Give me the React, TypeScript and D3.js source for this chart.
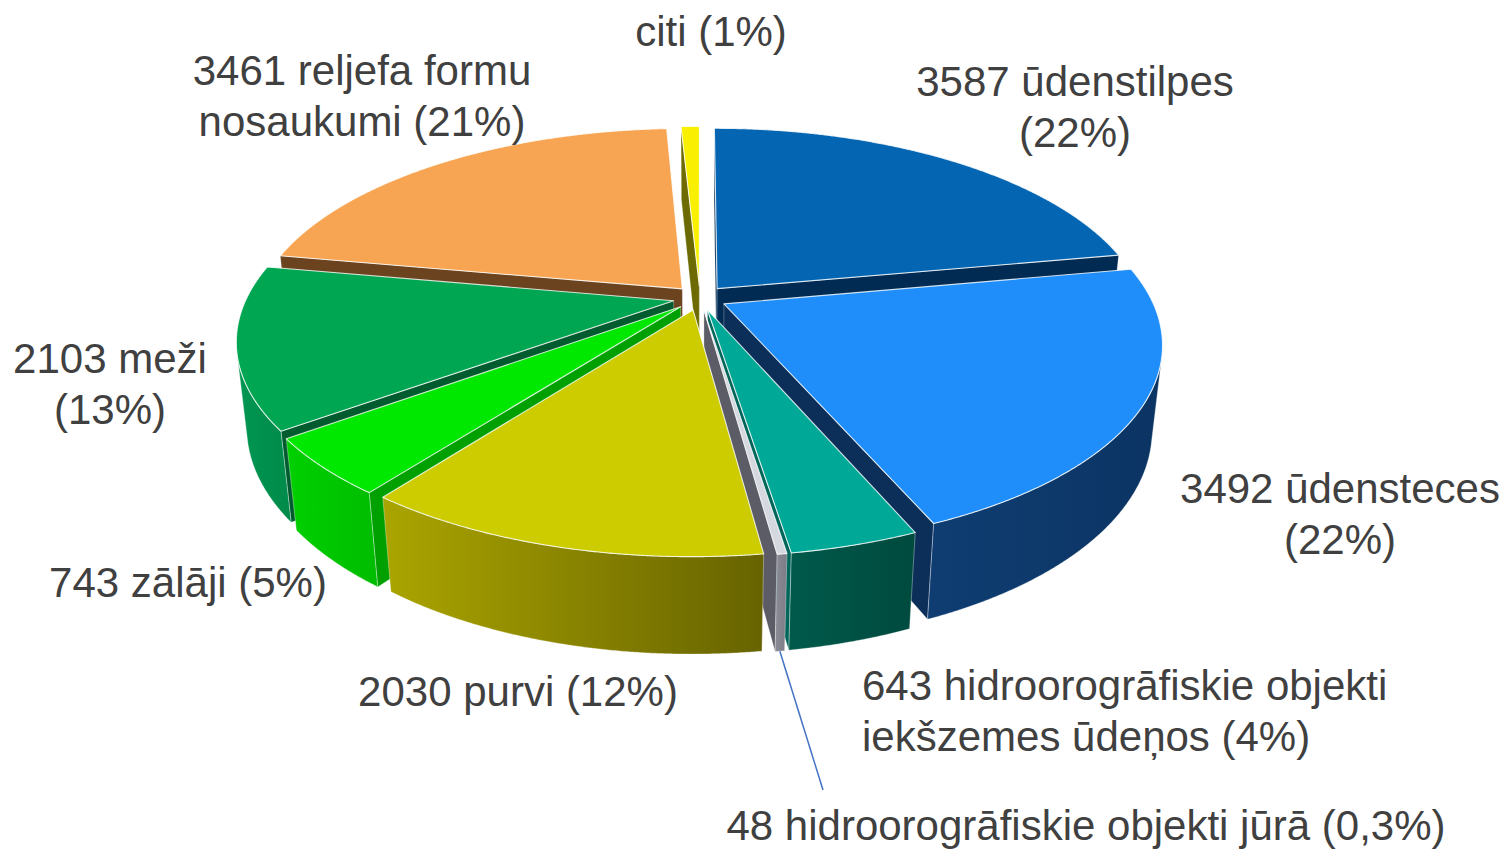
import React from 'react';
import * as d3 from 'd3';

// ---- data ----
const categories = [
  'ūdenstilpes',
  'ūdensteces',
  'hidroorogrāfiskie objekti iekšzemes ūdeņos',
  'hidroorogrāfiskie objekti jūrā',
  'purvi',
  'zālāji',
  'meži',
  'reljefa formu nosaukumi',
  'citi',
];
const values = [3587, 3492, 643, 48, 2030, 743, 2103, 3461, 134];
const percentTexts = ['22%', '22%', '4%', '0,3%', '12%', '5%', '13%', '21%', '1%'];
const labelTexts = [
  ['3587 ūdenstilpes', '(22%)'],
  ['3492 ūdensteces', '(22%)'],
  ['643 hidroorogrāfiskie objekti', 'iekšzemes ūdeņos (4%)'],
  ['48 hidroorogrāfiskie objekti jūrā (0,3%)'],
  ['2030 purvi (12%)'],
  ['743 zālāji (5%)'],
  ['2103 meži', '(13%)'],
  ['3461 reljefa formu', 'nosaukumi (21%)'],
  ['citi (1%)'],
];

// ---- styles ----
const topColors = ['#0466B3', '#1F8EFB', '#00A997', '#D5D8DF', '#CCCC00', '#00E800', '#00A651', '#F7A552', '#F8F000'];
const sideLight = ['#0B3D72', '#0F3D72', '#005A4B', '#8C8C96', '#ABA500', '#00D000', '#009652', '#C27A3A', '#9A9600'];
const sideDark = ['#08325F', '#0B3463', '#004A3E', '#7C7C86', '#676300', '#00BC00', '#008A4A', '#A86830', '#8A8600'];
const cutColors = ['#012B52', '#0C2F5A', '#00665A', '#5C5C66', '#8F8A00', '#00A000', '#005C2E', '#6B431E', '#6C6A00'];

// label layout: x, first baseline, anchor
const labelX = [1075, 1340, 862, 1086, 518, 188, 110, 362, 711];
const labelY = [96, 503, 700, 840, 706, 597, 373, 85, 46];
const labelAnchor = ['middle', 'middle', 'start', 'middle', 'middle', 'middle', 'middle', 'middle', 'middle'];
const leaderFrom = [null, null, null, [823, 790], null, null, null, null, null];

const W = 1508, HH = 851;
const CX = 700, CY = 298, R = 427, DEPTH = 96;
const sT = 0.455, cT = Math.sqrt(1 - sT * sT), DIST = 1988, EXPLODE = 27;
const EYE = [0, -DIST * cT, DIST * sT];

type V3 = [number, number, number];
function proj(p: V3): [number, number] {
  const [x, y, z] = p;
  const ys = y * sT + z * cT;
  const d = y * cT - z * sT;
  const k = DIST / (DIST + d);
  return [CX + x * k, CY - ys * k];
}
function dist(p: V3) {
  return Math.hypot(p[0] - EYE[0], p[1] - EYE[1], p[2] - EYE[2]);
}
function polyPath(pts: V3[]) {
  const line = d3.line<[number, number]>();
  return line(pts.map(proj)) + 'Z';
}

type Shape = { d: string; fill: string; stroke: string; sw: number; depth: number; key: string };

export default function App() {
  const pie = d3.pie<number>().sort(null).value((v) => v).startAngle(0).endAngle(Math.PI * 2);
  const arcs = pie(values);

  const cuts: Shape[] = [];
  const walls: Shape[] = [];
  const tops: Shape[] = [];
  const leaders: { x1: number; y1: number; x2: number; y2: number }[] = [];
  const step = Math.PI / 720;

  arcs.forEach((a, i) => {
    const a0 = a.startAngle, a1 = a.endAngle, mid = (a0 + a1) / 2;
    const A: V3 = [EXPLODE * Math.sin(mid), EXPLODE * Math.cos(mid), 0];
    const rim = (t: number, z: number): V3 => [A[0] + R * Math.sin(t), A[1] + R * Math.cos(t), z];
    const n = Math.max(2, Math.ceil((a1 - a0) / step));
    const ts = d3.range(n + 1).map((j) => a0 + ((a1 - a0) * j) / n);

    // top face
    const topPts: V3[] = [A, ...ts.map((t) => rim(t, 0))];
    tops.push({ d: polyPath(topPts), fill: topColors[i], stroke: 'rgba(255,255,255,0.8)', sw: 1.1, depth: 0, key: 't' + i });

    // cut faces
    const faces: [number, number, number][] = [
      [a0, -Math.cos(a0), Math.sin(a0)],
      [a1, Math.cos(a1), -Math.sin(a1)],
    ];
    faces.forEach(([t, nx, ny], fi) => {
      const vis = nx * (EYE[0] - A[0]) + ny * (EYE[1] - A[1]) > 0;
      if (!vis) return;
      const pts: V3[] = [A, rim(t, 0), rim(t, -DEPTH), [A[0], A[1], -DEPTH]];
      const c: V3 = [(A[0] + rim(t, 0)[0]) / 2, (A[1] + rim(t, 0)[1]) / 2, -DEPTH / 2];
      cuts.push({ d: polyPath(pts), fill: cutColors[i], stroke: 'rgba(255,255,255,0.35)', sw: 0.8, depth: dist(c), key: 'c' + i + fi });
    });

    // outer wall visible runs
    const visible = (t: number) => {
      const P = rim(t, 0);
      return Math.sin(t) * (EYE[0] - P[0]) + Math.cos(t) * (EYE[1] - P[1]) > 0;
    };
    let run: number[] = [];
    const runs: number[][] = [];
    ts.forEach((t) => {
      if (visible(t)) run.push(t);
      else if (run.length) { runs.push(run); run = []; }
    });
    if (run.length) runs.push(run);
    runs.forEach((r, ri) => {
      if (r.length < 2) return;
      const pts: V3[] = [...r.map((t) => rim(t, 0)), ...r.slice().reverse().map((t) => rim(t, -DEPTH))];
      const tm = r[Math.floor(r.length / 2)];
      walls.push({ d: polyPath(pts), fill: `url(#side${i})`, stroke: 'rgba(255,255,255,0.45)', sw: 0.8, depth: dist(rim(tm, -DEPTH / 2)), key: 'w' + i + ri });
    });

    const lf = leaderFrom[i];
    if (lf) {
      const p = proj(rim(mid, -DEPTH));
      leaders.push({ x1: lf[0], y1: lf[1], x2: p[0], y2: p[1] });
    }
  });

  cuts.sort((p, q) => q.depth - p.depth);
  walls.sort((p, q) => q.depth - p.depth);

  return (
    <svg width={W} height={HH} style={{ position: 'absolute', left: 0, top: 0, background: '#fff' }}
      fontFamily="'Liberation Sans', Arial, sans-serif">
      <defs>
        {categories.map((c, i) => (
          <linearGradient key={c} id={'side' + i} x1="0" x2="1" y1="0" y2="0">
            <stop offset="0" stopColor={sideLight[i]} />
            <stop offset="1" stopColor={sideDark[i]} />
          </linearGradient>
        ))}
      </defs>
      <rect width={W} height={HH} fill="#fff" />
      <g>
        {cuts.map((s) => <path key={s.key} d={s.d} fill={s.fill} stroke={s.stroke} strokeWidth={s.sw} strokeLinejoin="round" />)}
        {walls.map((s) => <path key={s.key} d={s.d} fill={s.fill} stroke={s.stroke} strokeWidth={s.sw} strokeLinejoin="round" />)}
        {tops.map((s) => <path key={s.key} d={s.d} fill={s.fill} stroke={s.stroke} strokeWidth={s.sw} strokeLinejoin="round" />)}
      </g>
      {leaders.map((l, i) => (
        <line key={'l' + i} x1={l.x1} y1={l.y1} x2={l.x2} y2={l.y2} stroke="#4472C4" strokeWidth={1.5} />
      ))}
      <g fill="#404040" fontSize={42}>
        {labelTexts.map((lines, i) => (
          <text key={'lab' + i} x={labelX[i]} y={labelY[i]} textAnchor={labelAnchor[i] as any} data-name={categories[i]} data-pct={percentTexts[i]}>
            {lines.map((ln, j) => (
              <tspan key={j} x={labelX[i]} dy={j === 0 ? 0 : 51}>{ln}</tspan>
            ))}
          </text>
        ))}
      </g>
    </svg>
  );
}
